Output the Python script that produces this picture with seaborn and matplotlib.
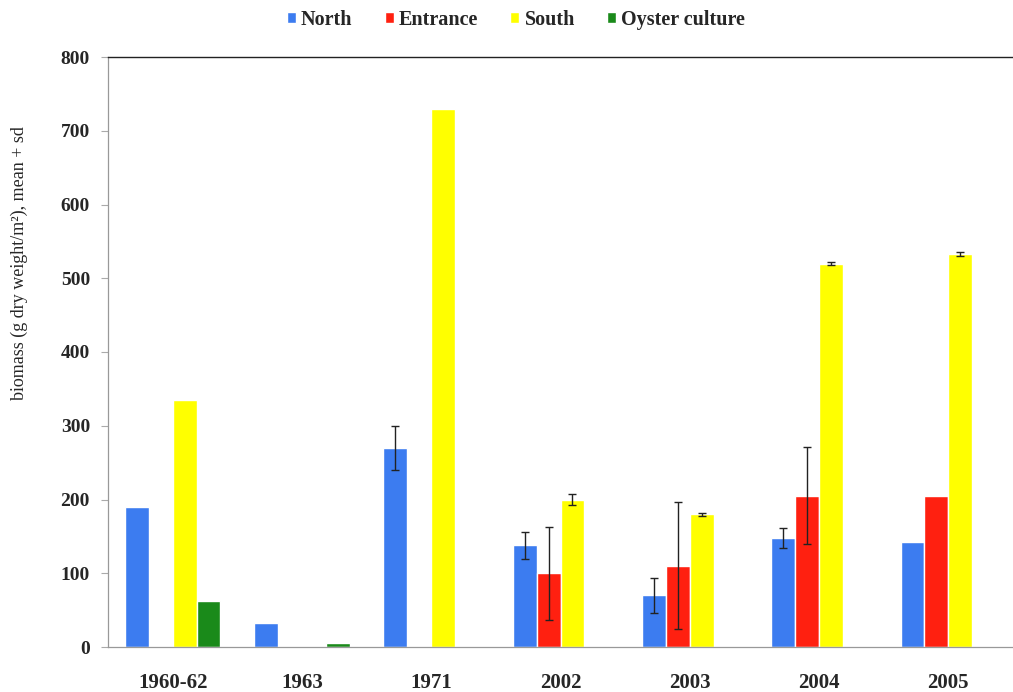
import numpy as np
import pandas as pd
import matplotlib
matplotlib.use("Agg")
import matplotlib.pyplot as plt
import seaborn as sns

periods = ["1960-62", "1963", "1971", "2002", "2003", "2004", "2005"]
sites = ["North", "Entrance", "South", "Oyster culture"]

north = [190, 32, 270, 138, 70, 148, 143]
entrance = [np.nan, np.nan, np.nan, 100, 110, 205, 205]
south = [335, np.nan, 730, 200, 180, 520, 533]
oyster = [62, 5, np.nan, np.nan, np.nan, np.nan, np.nan]

north_sd = [np.nan, np.nan, 30, 18, 24, 14, np.nan]
entrance_sd = [np.nan, np.nan, np.nan, 63, 86, 66, np.nan]
south_sd = [np.nan, np.nan, np.nan, 7, 2, 2, 3]
oyster_sd = [np.nan] * 7

colors = ["#3c7cf0", "#ff2010", "#ffff00", "#1a8a1a"]

values = {"North": north, "Entrance": entrance, "South": south, "Oyster culture": oyster}
sds = {"North": north_sd, "Entrance": entrance_sd, "South": south_sd, "Oyster culture": oyster_sd}

rows = []
for s in sites:
    for p, v in zip(periods, values[s]):
        rows.append({"period": p, "site": s, "value": v})
df = pd.DataFrame(rows)

sns.set_style("white")
plt.rcParams["font.family"] = ["Liberation Serif", "DejaVu Serif"]

fig = plt.figure(figsize=(10.13, 6.92), dpi=100)
ax = fig.add_axes([108 / 1013, 45 / 692, 1 - 108 / 1013, (647 - 57) / 692])

bw = 0.74
sns.barplot(data=df, x="period", y="value", hue="site", order=periods,
            hue_order=sites, palette=colors, width=bw, saturation=1,
            errorbar=None, ax=ax, dodge=True)

# error bars
for j, s in enumerate(sites):
    cont = ax.containers[j]
    for bar in cont:
        h = bar.get_height()
        if h is None or np.isnan(h):
            continue
        xc = bar.get_x() + bar.get_width() / 2
        i = int(round(xc))
        sd = sds[s][i]
        if sd is None or np.isnan(sd):
            continue
        ax.errorbar(xc, h, yerr=sd, fmt="none", ecolor="#222222",
                    elinewidth=1.0, capsize=3, capthick=1.0, zorder=5)

ax.set_ylim(0, 800)
ax.set_yticks(range(0, 801, 100))
ax.set_xlim(-0.5, -0.5 + 903 / 130.3)
ax.set_xlabel("")
ax.set_ylabel("biomass (g dry weight/m²), mean + sd", fontsize=13)
ax.yaxis.set_label_coords(-0.088, 0.65)

for lab in ax.get_yticklabels():
    lab.set_fontweight("bold")
    lab.set_fontsize(14)
for lab in ax.get_xticklabels():
    lab.set_fontweight("bold")
    lab.set_fontsize(15)

ax.tick_params(axis="x", length=0, pad=19)
ax.set_xticks(np.arange(-0.5, 7, 1), minor=True)
ax.tick_params(axis="x", which="minor", length=5, color="#aaaaaa", width=0.8)
ax.tick_params(axis="y", length=5, color="#aaaaaa", width=0.8, left=True, pad=8)

for sp in ["left", "bottom"]:
    ax.spines[sp].set_color("#999999")
    ax.spines[sp].set_linewidth(0.9)
ax.spines["top"].set_color("#222222")
ax.spines["top"].set_linewidth(1.0)
ax.spines["right"].set_visible(False)

handles, labels = ax.get_legend_handles_labels()
ax.get_legend().remove()
leg = fig.legend(handles, labels, loc="center", bbox_to_anchor=(516 / 1013, 1 - 20 / 692),
                 ncol=4, frameon=False, handlelength=0.45, handleheight=0.45,
                 handletextpad=0.25, columnspacing=1.6,
                 prop={"weight": "bold", "size": 14.5})

fig.savefig("out.png", dpi=100)
